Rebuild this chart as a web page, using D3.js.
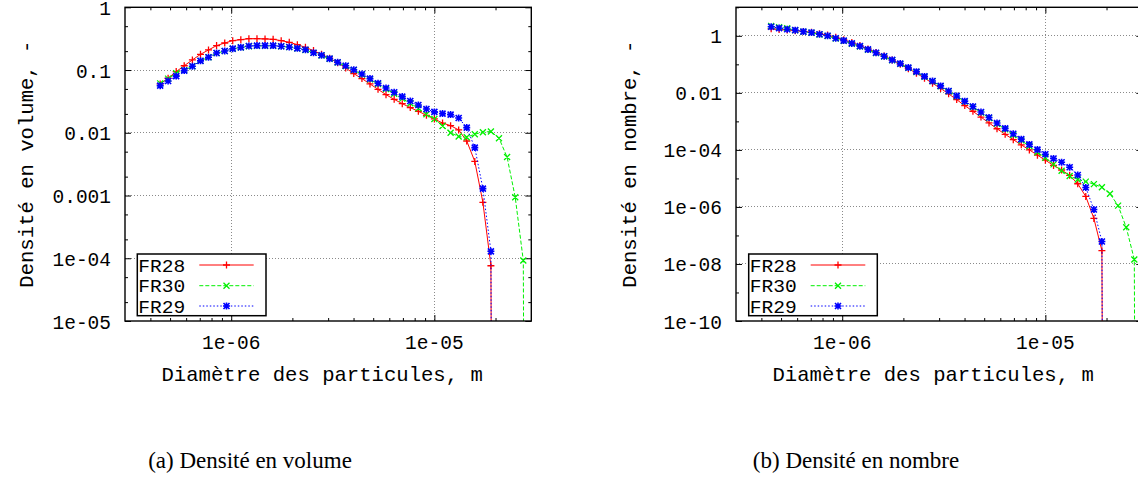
<!DOCTYPE html>
<html>
<head>
<meta charset="utf-8">
<script src="https://cdnjs.cloudflare.com/ajax/libs/d3/7.8.5/d3.min.js"></script>
<style>
  html, body { margin: 0; padding: 0; background: #fff; overflow: hidden; }
  svg { display: block; }
</style>
</head>
<body>
<svg id="chart" width="1138" height="479"></svg>
<script>
// ---------------- DATA ----------------
const diameters = [4.47e-7, 4.89e-7, 5.36e-7, 5.87e-7, 6.44e-7, 7.06e-7, 7.73e-7, 8.47e-7, 9.29e-7,
  1.017e-6, 1.115e-6, 1.222e-6, 1.339e-6, 1.467e-6, 1.608e-6, 1.762e-6, 1.931e-6, 2.116e-6, 2.319e-6,
  2.541e-6, 2.783e-6, 3.05e-6, 3.34e-6, 3.66e-6, 4.01e-6, 4.40e-6, 4.82e-6, 5.28e-6, 5.78e-6, 6.34e-6,
  6.95e-6, 7.61e-6, 8.34e-6, 9.14e-6, 1.00e-5, 1.097e-5, 1.202e-5, 1.317e-5, 1.443e-5, 1.581e-5,
  1.733e-5, 1.898e-5, 2.08e-5, 2.28e-5, 2.50e-5, 2.74e-5, 3.00e-5];

const seriesNames = ["FR28", "FR30", "FR29"];

// Densité en volume
const volFR28 = [0.060, 0.074, 0.0944, 0.117, 0.145, 0.178, 0.209, 0.245, 0.27, 0.294, 0.305, 0.316,
  0.316, 0.313, 0.309, 0.294, 0.277, 0.254, 0.230, 0.204, 0.178, 0.154, 0.131, 0.108, 0.0877, 0.073,
  0.060, 0.0493, 0.0405, 0.0341, 0.0291, 0.0252, 0.022, 0.019, 0.0166, 0.0143, 0.013, 0.0111, 0.0074,
  0.0035, 0.00078, 7.6e-5, 0];
const volFR30 = [0.0613, 0.073, 0.089, 0.099, 0.115, 0.14, 0.16, 0.186, 0.2, 0.218, 0.229, 0.24,
  0.243, 0.243, 0.243, 0.238, 0.232, 0.221, 0.209, 0.188, 0.171, 0.151, 0.132, 0.116, 0.100, 0.085,
  0.071, 0.060, 0.050, 0.042, 0.035, 0.0295, 0.0245, 0.0197, 0.0166, 0.0128, 0.010, 0.0087, 0.0085,
  0.0095, 0.0102, 0.0105, 0.0082, 0.0041, 0.00094, 9.2e-5, 0];
const volFR29 = [0.0564, 0.067, 0.080, 0.098, 0.115, 0.14, 0.16, 0.187, 0.201, 0.219, 0.230, 0.242,
  0.245, 0.245, 0.245, 0.239, 0.233, 0.222, 0.211, 0.189, 0.172, 0.152, 0.133, 0.117, 0.101, 0.0865,
  0.073, 0.0615, 0.0518, 0.0442, 0.0377, 0.0321, 0.0277, 0.0239, 0.0215, 0.0202, 0.0195, 0.0172,
  0.0121, 0.0058, 0.00129, 1.29e-4, 0];

// Densité en nombre
const numFR28 = [1.77, 1.66, 1.61, 1.52, 1.43, 1.33, 1.19, 1.06, 0.887, 0.734, 0.579, 0.456, 0.347,
  0.261, 0.196, 0.1416, 0.1014, 0.0706, 0.0486, 0.0328, 0.0217, 0.0143, 0.00924, 0.00579, 0.00357,
  0.00226, 0.00141, 8.81e-4, 5.51e-4, 3.52e-4, 2.29e-4, 1.50e-4, 9.98e-5, 6.55e-5, 4.35e-5, 2.85e-5,
  1.97e-5, 1.28e-5, 6.5e-6, 2.33e-6, 3.94e-7, 2.92e-8, 0];
const numFR30 = [2.21, 2.0, 1.85, 1.565, 1.38, 1.28, 1.11, 0.982, 0.802, 0.664, 0.530, 0.423, 0.325,
  0.247, 0.188, 0.140, 0.1036, 0.075, 0.0539, 0.0369, 0.0255, 0.0171, 0.01136, 0.00759, 0.00497,
  0.00321, 0.00204, 0.00131, 8.3e-4, 5.29e-4, 3.35e-4, 2.15e-4, 1.36e-4, 8.29e-5, 5.31e-5, 3.11e-5,
  1.85e-5, 1.22e-5, 9.1e-6, 7.7e-6, 6.3e-6, 4.9e-6, 2.9e-6, 1.11e-6, 1.93e-7, 1.44e-8, 0];
const numFR29 = [2.07, 1.87, 1.70, 1.58, 1.41, 1.30, 1.13, 1.006, 0.822, 0.680, 0.543, 0.434, 0.334,
  0.254, 0.193, 0.143, 0.106, 0.0768, 0.0555, 0.0378, 0.0261, 0.01755, 0.01167, 0.0078, 0.00512,
  0.00333, 0.00214, 0.00137, 8.76e-4, 5.68e-4, 3.68e-4, 2.38e-4, 1.56e-4, 1.025e-4, 7.0e-5, 5.0e-5,
  3.67e-5, 2.46e-5, 1.32e-5, 4.8e-6, 8.1e-7, 6.16e-8, 0];

const xDomain = [3e-7, 3e-5];
const xTickValues = [1e-6, 1e-5];
const xTickLabels = ["1e-06", "1e-05"];

const volYDomain = [1e-5, 1];
const volYTicks = [1, 0.1, 0.01, 0.001, 1e-4, 1e-5];
const volYLabels = ["1", "0.1", "0.01", "0.001", "1e-04", "1e-05"];

const numYDomain = [1e-10, 10];
const numYTicks = [1, 0.01, 1e-4, 1e-6, 1e-8, 1e-10];
const numYLabels = ["1", "0.01", "1e-04", "1e-06", "1e-08", "1e-10"];

const captions = ["(a) Densité en volume", "(b) Densité en nombre"];
const yTitles = ["Densité en volume, -", "Densité en nombre, -"];
const xTitle = "Diamètre des particules, m";

// ---------------- STYLE ----------------
const colors = ["#ff0000", "#00f000", "#0000ff"];
const dashes = [null, "4,2", "1.5,2"];
const markers = ["plus", "cross", "star"];
const MONO = "'Liberation Mono', 'DejaVu Sans Mono', monospace";
const SERIF = "'Liberation Serif', 'DejaVu Serif', serif";
const FS_TICK = 19.5, FS_TITLE = 20.6, FS_LEG = 17.5;

const svg = d3.select("#chart");
svg.append("rect").attr("width", 1138).attr("height", 479).attr("fill", "#fff");

function markerPath(type, x, y) {
  const s = 3.5, c = 3;
  const plus = `M${x - s},${y}H${x + s}M${x},${y - s}V${y + s}`;
  const cross = `M${x - c},${y - c}L${x + c},${y + c}M${x - c},${y + c}L${x + c},${y - c}`;
  if (type === "plus") return plus;
  if (type === "cross") return cross;
  return plus + cross;
}
const markerWidth = [1.3, 1.3, 1.6];

function panel(cfg) {
  const { left, top, width, height, yDomain, yTicks, yLabels, yMinor, series, id, legend } = cfg;
  const g = svg.append("g");
  const x = d3.scaleLog().domain(xDomain).range([left, left + width]);
  const y = d3.scaleLog().domain(yDomain).range([top + height, top]);
  const bottom = top + height, right = left + width;

  // grid
  const grid = g.append("g").attr("stroke", "#8a8a8a").attr("stroke-width", 1)
    .attr("stroke-dasharray", "1,2").attr("shape-rendering", "crispEdges");
  xTickValues.forEach(v => grid.append("line").attr("x1", x(v)).attr("x2", x(v)).attr("y1", top).attr("y2", bottom));
  yTicks.forEach(v => { if (v > yDomain[0] && v < yDomain[1]) grid.append("line").attr("x1", left).attr("x2", right).attr("y1", y(v)).attr("y2", y(v)); });

  // axes via d3 axis generators (ticks inward, mirrored)
  const major = 6, minor = 3;
  const xMinorVals = [];
  for (let e = -7; e <= -5; e++) for (let m = 1; m <= 9; m++) {
    const v = m * Math.pow(10, e);
    if (v > xDomain[0] * 1.0001 && v < xDomain[1] * 0.9999 && !xTickValues.some(t => Math.abs(t - v) / v < 1e-6)) xMinorVals.push(v);
  }
  const axG = g.append("g").attr("stroke", "#000");
  const mk = (axisFn, scale, vals, size, tr) => {
    const a = axisFn(scale).tickValues(vals).tickSize(size).tickFormat("");
    const sel = axG.append("g").attr("transform", tr).call(a);
    sel.select(".domain").remove();
    sel.selectAll("line").attr("stroke", "#000").attr("stroke-width", 1);
  };
  mk(d3.axisTop, x, xTickValues, major, `translate(0,${bottom})`);
  mk(d3.axisTop, x, xMinorVals, minor, `translate(0,${bottom})`);
  mk(d3.axisBottom, x, xTickValues, major, `translate(0,${top})`);
  mk(d3.axisBottom, x, xMinorVals, minor, `translate(0,${top})`);
  mk(d3.axisRight, y, yTicks, major, `translate(${left},0)`);
  mk(d3.axisRight, y, yMinor, minor, `translate(${left},0)`);
  mk(d3.axisLeft, y, yTicks, major, `translate(${right},0)`);
  mk(d3.axisLeft, y, yMinor, minor, `translate(${right},0)`);

  // tick labels
  xTickValues.forEach((v, i) => g.append("text").attr("x", x(v)).attr("y", 349)
    .attr("text-anchor", "middle").attr("font-family", MONO).attr("font-size", FS_TICK).attr("fill", "#000").text(xTickLabels[i]));
  yTicks.forEach((v, i) => g.append("text").attr("x", left - 14).attr("y", y(v) + 7.5)
    .attr("text-anchor", "end").attr("font-family", MONO).attr("font-size", FS_TICK).attr("fill", "#000").text(yLabels[i]));

  // titles
  g.append("text").attr("x", left + width / 2 - 6).attr("y", 381).attr("text-anchor", "middle")
    .attr("font-family", MONO).attr("font-size", FS_TITLE).attr("fill", "#000").text(xTitle);
  g.append("text").attr("transform", `translate(${cfg.yTitleX},${top + height / 2}) rotate(-90)`)
    .attr("text-anchor", "middle").attr("dy", "0.35em").attr("font-family", MONO).attr("font-size", FS_TITLE)
    .attr("fill", "#000").text(cfg.yTitle);

  // clip
  svg.append("clipPath").attr("id", id).append("rect").attr("x", left).attr("y", top).attr("width", width).attr("height", height);
  const plot = g.append("g").attr("clip-path", `url(#${id})`);
  const yy = v => v > 0 ? y(v) : bottom + 2000;
  series.forEach((vals, s) => {
    const pts = vals.map((v, i) => [x(diameters[i]), yy(v)]);
    plot.append("path").attr("d", d3.line()(pts)).attr("fill", "none").attr("stroke", colors[s])
      .attr("stroke-width", 1).attr("stroke-dasharray", dashes[s]);
    plot.append("path").attr("d", pts.filter((p, i) => vals[i] > 0).map(p => markerPath(markers[s], p[0], p[1])).join(""))
      .attr("fill", "none").attr("stroke", colors[s]).attr("stroke-width", markerWidth[s]);
  });

  // border
  g.append("rect").attr("x", left).attr("y", top).attr("width", width).attr("height", height)
    .attr("fill", "none").attr("stroke", "#000").attr("stroke-width", 1.4);

  // legend
  const L = legend;
  g.append("rect").attr("x", L.x0).attr("y", L.y0).attr("width", L.x1 - L.x0).attr("height", L.y1 - L.y0)
    .attr("fill", "#fff").attr("stroke", "#000").attr("stroke-width", 1.5);
  const rowY = [265, 285.7, 306];
  seriesNames.forEach((n, s) => {
    g.append("text").attr("x", L.x0 + 1).attr("y", rowY[s] + 6.5).attr("font-family", MONO).attr("font-size", FS_LEG)
      .attr("textLength", 47).attr("lengthAdjust", "spacingAndGlyphs")
      .attr("fill", "#000").text(n);
    g.append("line").attr("x1", L.lx0).attr("x2", L.lx1).attr("y1", rowY[s]).attr("y2", rowY[s])
      .attr("stroke", colors[s]).attr("stroke-width", 1).attr("stroke-dasharray", dashes[s]);
    g.append("path").attr("d", markerPath(markers[s], (L.lx0 + L.lx1) / 2, rowY[s]))
      .attr("fill", "none").attr("stroke", colors[s]).attr("stroke-width", markerWidth[s]);
  });
}

const volMinor = [];
[-5, -4, -3, -2, -1].forEach(e => [2, 5].forEach(m => volMinor.push(m * Math.pow(10, e))));
const numMinor = [10, 0.1, 1e-3, 1e-5, 1e-7, 1e-9];

panel({ id: "clipA", left: 125, top: 7.3, width: 406.3, height: 313.7, yDomain: volYDomain,
  yTicks: volYTicks, yLabels: volYLabels, yMinor: volMinor, yTitle: yTitles[0], yTitleX: 26,
  series: [volFR28, volFR30, volFR29],
  legend: { x0: 137.3, y0: 254, x1: 266, y1: 315.7, lx0: 199.3, lx1: 253.7 } });

panel({ id: "clipB", left: 736, top: 7.3, width: 406.3, height: 313.7, yDomain: numYDomain,
  yTicks: numYTicks, yLabels: numYLabels, yMinor: numMinor, yTitle: yTitles[1], yTitleX: 629,
  series: [numFR28, numFR30, numFR29],
  legend: { x0: 748.7, y0: 254, x1: 877.3, y1: 315.7, lx0: 810.7, lx1: 865.3 } });

// captions
[[250, captions[0]], [856, captions[1]]].forEach(([cx, t]) =>
  svg.append("text").attr("x", cx).attr("y", 468).attr("text-anchor", "middle")
    .attr("font-family", SERIF).attr("font-size", 23).attr("fill", "#000").text(t));
</script>
</body>
</html>
